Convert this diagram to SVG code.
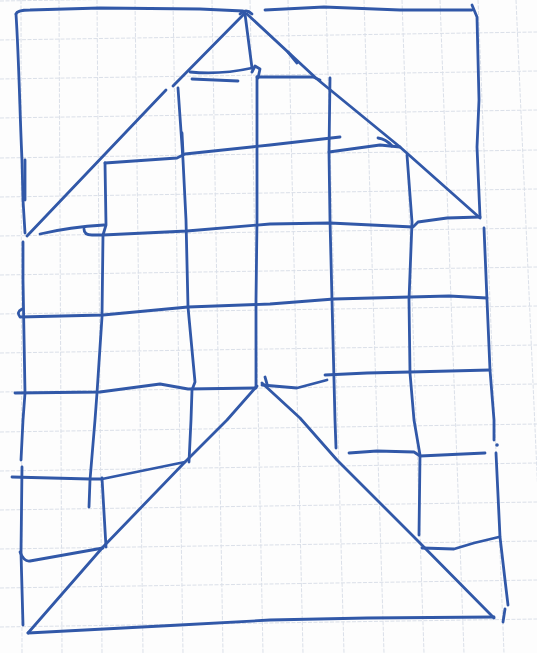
<svg xmlns="http://www.w3.org/2000/svg" width="537" height="653" viewBox="0 0 537 653">
<style>
.g{stroke:#dbe0e9;stroke-width:1;fill:none;stroke-dasharray:4 1.5}
.p{stroke:#3158a8;stroke-width:2.8;fill:none;stroke-linecap:round;stroke-linejoin:round}
</style>
<rect width="537" height="653" fill="#fdfdfd"/>
<g id="grid">
<path class="g" d="M21,0 L22,653 M59,0 L62,653 M97,0 L102,653 M135,0 L143,653 M173,0 L183,653 M212,0 L223,653 M250,0 L263,653 M288,0 L303,653 M326,0 L344,653 M364,0 L384,653 M402,0 L424,653 M440,0 L464,653 M478,0 L504,653 M516,0 L545,653"/>
<path class="g" d="M0,1 L537,-7 M0,40 L537,32 M0,79 L537,71 M0,118 L537,110 M0,158 L537,150 M0,197 L537,189 M0,236 L537,228 M0,275 L537,267 M0,314 L537,306 M0,353 L537,345 M0,392 L537,384 M0,432 L537,424 M0,471 L537,463 M0,510 L537,502 M0,549 L537,541 M0,588 L537,580 M0,627 L537,619 M0,667 L537,659"/>
</g>
<g id="sketch">
<path class="p" d="M16,14 Q17,10 30,10 L100,8 L200,9 L243,11"/>
<path class="p" d="M265,10 L324,7 L400,10 L472,10"/>
<path class="p" d="M472,5 L477,17 L479,100 L477,147 L480,217"/>
<path class="p" d="M16,14 C19,60 20,120 22,160 L23,200 L25,233"/>
<path class="p" d="M25,160 L25,200"/>
<path class="p" d="M23,242 L23,280 L25,393 L23,420 L21,460"/>
<path class="p" d="M22,467 L21,553 L23,625"/>
<path class="p" d="M484,228 L487,300 L490,370 L494,420 L494,440"/>
<circle cx="497" cy="445" r="1.8" fill="#3158a8"/>
<path class="p" d="M496,453 L500,537 L505,580 L508,605"/>
<path class="p" d="M505,609 L503,622"/>
<path class="p" d="M28,633 L180,625 L270,620 L367,618 L494,617"/>
<path class="p" d="M240,14 Q246,8 252,14"/>
<path class="p" d="M245,13 L173,86"/>
<path class="p" d="M166,90 L27,236"/>
<path class="p" d="M247,14 L317,79 L400,147 L480,218"/>
<path class="p" d="M288,52 L297,63"/>
<path class="p" d="M245,14 L252,68"/>
<path class="p" d="M190,72 Q220,75 252,68"/>
<path class="p" d="M192,79 L238,81"/>
<path class="p" d="M252,72 L255,66 L260,69 L258,78"/>
<path class="p" d="M257,77 L257,220 L256,300 L256,387"/>
<path class="p" d="M178,88 L183,160 L186,220 L188,307 L195,382 L192,390 L191,420 L189,462"/>
<path class="p" d="M182,133 L183,153"/>
<path class="p" d="M330,78 L329,152 L330,220 L332,300 L335,420 L336,448"/>
<path class="p" d="M407,155 L412,222 L409,300 L410,373 L414,420 L420,455 L419,535"/>
<path class="p" d="M105,163 L106,225 L103,235 L102,317 L97,393 L95,420 L90,480 L89,507"/>
<path class="p" d="M102,478 L106,547"/>
<path class="p" d="M105,163 L177,158 L185,154 L270,145 L340,137"/>
<path class="p" d="M329,152 L380,145 L400,147"/>
<path class="p" d="M378,138 Q386,139 392,146"/>
<path class="p" d="M257,77 L313,77 L320,80"/>
<path class="p" d="M40,234 Q70,227 104,225"/>
<path class="p" d="M84,229 Q84,235 92,235 L103,235 L187,231 L270,224 L330,223 L413,227 L418,222 L447,218 L480,217"/>
<path class="p" d="M22,309 Q16,312 20,317 L103,315 L188,307 L270,304 L334,299 L410,297 L449,296 L487,298"/>
<path class="p" d="M15,393 L100,392 L160,384 L188,389 L256,388"/>
<path class="p" d="M262,385 L297,388 L327,380"/>
<path class="p" d="M325,375 L367,373 L410,372 L490,370"/>
<path class="p" d="M12,477 L90,479 L102,479 L185,462"/>
<path class="p" d="M20,552 Q24,562 30,561 L103,548"/>
<path class="p" d="M349,453 L377,451 L414,452 L420,456 L485,453"/>
<path class="p" d="M422,548 L454,549 L474,543 L499,537"/>
<path class="p" d="M257,386 L227,420 L185,462 L103,547 L28,633"/>
<path class="p" d="M262,383 L300,418 L337,460 L414,537 L494,618"/>
<path class="p" d="M265,377 L267,384"/>
</g>
</svg>
